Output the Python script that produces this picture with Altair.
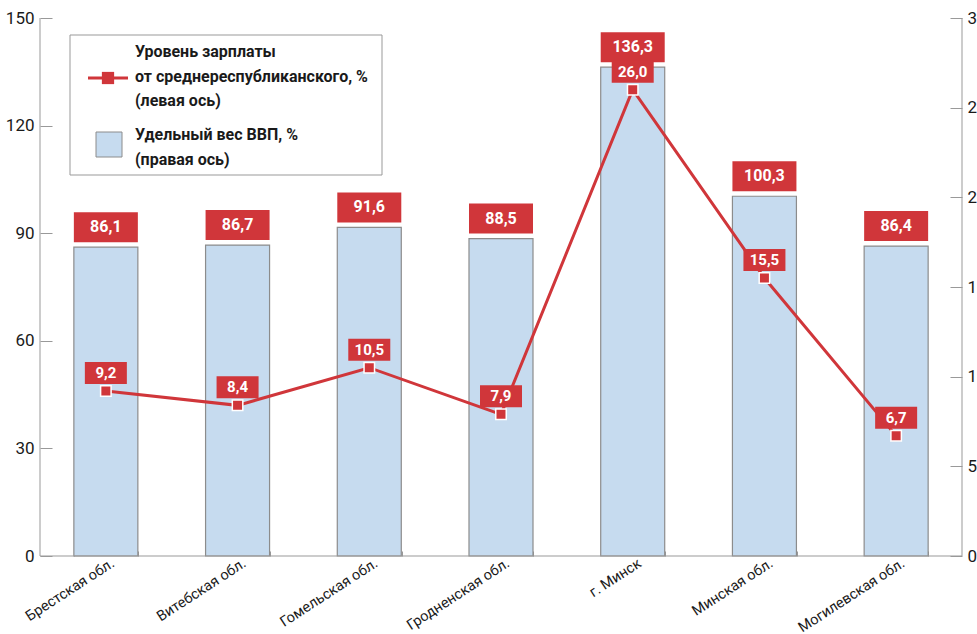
import altair as alt
import pandas as pd

categories = ["Брестская обл.", "Витебская обл.", "Гомельская обл.", "Гродненская обл.",
              "г. Минск", "Минская обл.", "Могилевская обл."]
wage_level = [86.1, 86.7, 91.6, 88.5, 136.3, 100.3, 86.4]
gdp_share = [9.2, 8.4, 10.5, 7.9, 26.0, 15.5, 6.7]
left_ticks = [0, 30, 60, 90, 120, 150]
right_ticks = [0, 5, 10, 15, 20, 25, 30]
legend_line_text = ["Уровень зарплаты", "от среднереспубликанского, %", "(левая ось)"]
legend_bar_text = ["Удельный вес ВВП, %", "(правая ось)"]

RED = "#d0363a"
BLUE = "#c6dbef"
GRAY = "#8c8c8c"
FONT = "Roboto, sans-serif"

df = pd.DataFrame({"cat": categories, "bar": wage_level, "line": gdp_share})
df["bar_lbl"] = [f"{v:.1f}".replace(".", ",") for v in wage_level]
df["line_lbl"] = [f"{v:.1f}".replace(".", ",") for v in gdp_share]

xscale = alt.Scale(domain=categories, paddingInner=0.51, paddingOuter=0.255)
xaxis = alt.Axis(title=None, labelAngle=327, labelAlign="right", labelBaseline="top",
                 labelFontSize=14.5, labelFont=FONT, labelColor="#1a1a1a",
                 tickBand="extent", tickSize=5, tickColor="#999999", offset=-5,
                 domain=False, labelPadding=0, labelOffset=3)
X = alt.X("cat:N", sort=categories, scale=xscale, axis=xaxis)

base = alt.Chart(df)

yl_scale = alt.Scale(domain=[0, 150], nice=False, zero=True)
yl_axis = alt.Axis(title=None, values=left_ticks, orient="left", offset=-12, tickSize=12,
                   tickColor="#999999", domain=False, grid=False, labelFontSize=17,
                   labelFont=FONT, labelColor="#1a1a1a", labelPadding=6)
YL = alt.Y("bar:Q", scale=yl_scale, axis=yl_axis)
bars = base.mark_bar(size=64, fill=BLUE, stroke=GRAY, strokeWidth=1.2).encode(x=X, y=YL)
bar_box = base.mark_point(shape="M-1,-0.469H1V0.469H-1Z", size=4096, filled=True,
                          color=RED, opacity=1, yOffset=-20).encode(x=X, y=YL)
bar_txt = base.mark_text(font=FONT, fontSize=16, fontWeight="bold", color="white",
                         baseline="middle", yOffset=-20).encode(x=X, y=YL, text="bar_lbl:N")
left_group = alt.layer(bars, bar_box, bar_txt)

yr_scale = alt.Scale(domain=[0, 30], nice=False, zero=True)
yr_axis = alt.Axis(title=None, values=right_ticks, orient="right", offset=-12, tickSize=12,
                   tickColor="#999999", domain=False, grid=False, labelFontSize=17,
                   labelFont=FONT, labelColor="#1a1a1a", labelPadding=5)
YR = alt.Y("line:Q", scale=yr_scale, axis=yr_axis)
line = base.mark_line(color=RED, strokeWidth=3).encode(x=X, y=YR)
pts = base.mark_point(shape="square", size=110, filled=True, fill=RED, stroke="white",
                      strokeWidth=1.5, opacity=1).encode(x=X, y=YR)
line_box = base.mark_point(shape="M-1,-0.524H1V0.524H-1Z", size=1764, filled=True,
                           color=RED, opacity=1, yOffset=-18).encode(x=X, y=YR)
line_txt = base.mark_text(font=FONT, fontSize=15, fontWeight="bold", color="white",
                          baseline="middle", yOffset=-18).encode(x=X, y=YR, text="line_lbl:N")
right_group = alt.layer(line, pts, line_box, line_txt)

data_layers = alt.layer(left_group, right_group).resolve_scale(y="independent")

one = alt.Chart(pd.DataFrame({"a": [0]}))
frame_left = one.mark_rule(color="#999999", strokeWidth=1).encode(
    x=alt.value(0), y=alt.value(0), y2=alt.value(538))
frame_right = one.mark_rule(color="#999999", strokeWidth=1).encode(
    x=alt.value(922), y=alt.value(0), y2=alt.value(538))
frame_bottom = one.mark_rule(color="#999999", strokeWidth=1).encode(
    x=alt.value(0), x2=alt.value(922), y=alt.value(538))

leg_box = one.mark_rect(fill="white", stroke="#999999", strokeWidth=1).encode(
    x=alt.value(30), x2=alt.value(342), y=alt.value(17), y2=alt.value(157))
leg_line = one.mark_rule(color=RED, strokeWidth=3).encode(
    x=alt.value(48), x2=alt.value(88), y=alt.value(60))
leg_pt = one.mark_point(shape="square", size=150, filled=True, color=RED, opacity=1).encode(
    x=alt.value(68), y=alt.value(60))
leg_sq = one.mark_rect(fill=BLUE, stroke=GRAY, strokeWidth=1).encode(
    x=alt.value(56), x2=alt.value(82), y=alt.value(114), y2=alt.value(139))
leg_t1 = one.mark_text(text=legend_line_text, font=FONT, fontSize=16, fontWeight="bold",
                       color="#1a1a1a", align="left", baseline="middle", lineHeight=24.5).encode(
    x=alt.value(95), y=alt.value(34))
leg_t2 = one.mark_text(text=legend_bar_text, font=FONT, fontSize=16, fontWeight="bold",
                       color="#1a1a1a", align="left", baseline="middle", lineHeight=25).encode(
    x=alt.value(95), y=alt.value(117))

chart = alt.layer(
    data_layers,
    frame_left, frame_right, frame_bottom,
    leg_box, leg_line, leg_pt, leg_sq, leg_t1, leg_t2,
).properties(
    width=922, height=538,
    padding={"left": 40, "top": 18, "right": 15, "bottom": 78},
    autosize=alt.AutoSizeParams(type="none"),
    background="white",
).configure_view(stroke=None)

chart.save("out.html", embed_options={"renderer": "svg", "actions": False})
